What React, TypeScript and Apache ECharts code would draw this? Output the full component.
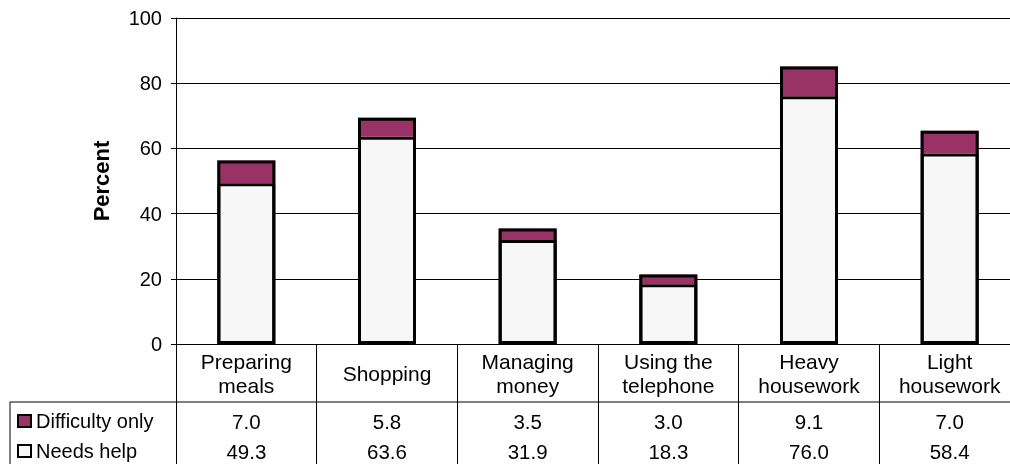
import React, { useEffect, useRef } from "react";
import * as echarts from "echarts";

const categories = [
  "Preparing\nmeals",
  "Shopping",
  "Managing\nmoney",
  "Using the\ntelephone",
  "Heavy\nhousework",
  "Light\nhousework",
];
const difficultyOnly = [7.0, 5.8, 3.5, 3.0, 9.1, 7.0];
const needsHelp = [49.3, 63.6, 31.9, 18.3, 76.0, 58.4];
const seriesNames = ["Difficulty only", "Needs help"];
const yMin = 0;
const yMax = 100;
const yStep = 20;

const FONT = '"Liberation Sans", Arial, Helvetica, sans-serif';
const PURPLE = "#993366";
const LIGHT = "#F7F7F7";

export default function App() {
  const ref = useRef<HTMLDivElement>(null);
  useEffect(() => {
    if (!ref.current) return;
    const chart = echarts.init(ref.current, undefined, { renderer: "svg" });
    const gridLeft = 176;
    const gridTop = 18;
    const gridWidth = 844;
    const gridHeight = 326;
    const BAR_W = 58;

    const totals = needsHelp.map((v, i) => +(v + difficultyOnly[i]).toFixed(1));

    const valueAxis = (vals: number[], margin: number) => ({
      type: "category",
      gridIndex: 0,
      position: "bottom",
      data: vals.map((v) => v.toFixed(1)),
      boundaryGap: true,
      axisLine: { show: false },
      axisTick: { show: false },
      splitLine: { show: false },
      axisLabel: {
        interval: 0,
        hideOverlap: false,
        margin,
        verticalAlign: "middle",
        fontSize: 20.5,
        color: "#000",
        fontFamily: FONT,
      },
    });

    chart.setOption({
      animation: false,
      textStyle: { fontFamily: FONT, color: "#000" },
      grid: {
        left: gridLeft,
        top: gridTop,
        width: gridWidth,
        height: gridHeight,
        outerBoundsMode: "none",
        containLabel: false,
      },
      legend: {
        data: seriesNames,
        orient: "vertical",
        left: 17,
        top: 411,
        padding: 0,
        itemGap: 10,
        itemWidth: 13,
        itemHeight: 12,
        icon: "rect",
        selectedMode: false,
        itemStyle: { borderWidth: 2, borderColor: "#000" },
        textStyle: { fontSize: 20, color: "#000", fontFamily: FONT },
      },
      xAxis: [
        {
          type: "category",
          gridIndex: 0,
          position: "bottom",
          data: categories,
          boundaryGap: true,
          axisLine: { show: true, lineStyle: { color: "#000", width: 1 } },
          axisTick: {
            show: true,
            interval: 0,
            length: 130,
            lineStyle: { color: "#000", width: 1 },
          },
          splitLine: { show: false },
          axisLabel: {
            interval: 0,
            hideOverlap: false,
            margin: 29,
            verticalAlign: "middle",
            fontSize: 21,
            lineHeight: 24,
            color: "#000",
            fontFamily: FONT,
          },
        },
        valueAxis(difficultyOnly, 77),
        valueAxis(needsHelp, 107),
      ],
      yAxis: {
        type: "value",
        min: yMin,
        max: yMax,
        interval: yStep,
        name: "Percent",
        nameLocation: "middle",
        nameGap: 64,
        nameTextStyle: {
          fontSize: 22,
          fontWeight: "bold",
          color: "#000",
          fontFamily: FONT,
        },
        axisLine: { show: true, lineStyle: { color: "#000", width: 1 } },
        axisTick: { show: true, length: 5, lineStyle: { color: "#000", width: 1 } },
        splitLine: { show: true, lineStyle: { color: "#000", width: 1 } },
        axisLabel: { margin: 14, fontSize: 20, color: "#000", fontFamily: FONT },
      },
      series: [
        {
          name: seriesNames[1],
          type: "bar",
          stack: "total",
          xAxisIndex: 0,
          barWidth: BAR_W,
          data: needsHelp,
          itemStyle: { color: LIGHT, borderColor: "#000", borderWidth: 3 },
        },
        {
          name: seriesNames[0],
          type: "bar",
          stack: "total",
          xAxisIndex: 0,
          barWidth: BAR_W,
          data: difficultyOnly,
          itemStyle: { color: PURPLE, borderColor: "#000", borderWidth: 0 },
        },
        {
          name: "outline",
          type: "bar",
          xAxisIndex: 0,
          barWidth: BAR_W,
          barGap: "-100%",
          data: totals,
          silent: true,
          itemStyle: { color: "rgba(0,0,0,0)", borderColor: "#000", borderWidth: 3 },
          z: 3,
        },
      ],
      graphic: [
        {
          type: "line",
          shape: { x1: 10, y1: 402, x2: 1010, y2: 402 },
          style: { stroke: "#000", lineWidth: 1 },
          silent: true,
        },
        {
          type: "line",
          shape: { x1: 10, y1: 402, x2: 10, y2: 470 },
          style: { stroke: "#000", lineWidth: 1 },
          silent: true,
        },
      ],
    });
    return () => chart.dispose();
  }, []);
  return (
    <div
      ref={ref}
      style={{ position: "fixed", left: 0, top: 0, width: 1010, height: 464 }}
    />
  );
}
